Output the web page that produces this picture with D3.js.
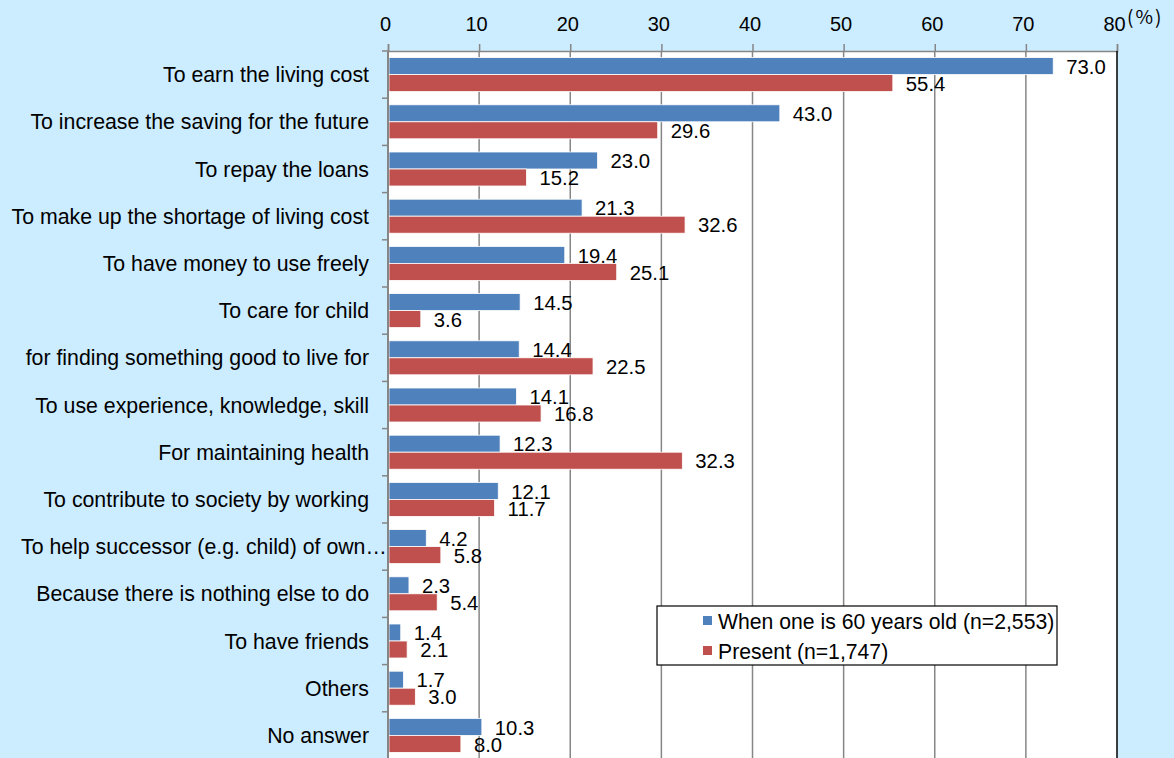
<!DOCTYPE html>
<html>
<head>
<meta charset="utf-8">
<script src="https://cdn.jsdelivr.net/npm/d3@7/dist/d3.min.js"></script>
<style>
  html, body { margin: 0; padding: 0; background: #CCECFF; }
  svg { display: block; }
  text { font-family: "Liberation Sans", Arial, sans-serif; fill: #000; }
</style>
</head>
<body>
<svg id="chart" width="1174" height="758"></svg>
<script>
// Reasons for working: at age 60 vs. present
const categories = [
  "To earn the living cost",
  "To increase the saving for the future",
  "To repay the loans",
  "To make up the shortage of living cost",
  "To have money to use freely",
  "To care for child",
  "for finding something good to live for",
  "To use experience, knowledge, skill",
  "For maintaining health",
  "To contribute to society by working",
  "To help successor (e.g. child) of own…",
  "Because there is nothing else to do",
  "To have friends",
  "Others",
  "No answer"
];
const at60 = [73.0, 43.0, 23.0, 21.3, 19.4, 14.5, 14.4, 14.1, 12.3, 12.1, 4.2, 2.3, 1.4, 1.7, 10.3];
const present = [55.4, 29.6, 15.2, 32.6, 25.1, 3.6, 22.5, 16.8, 32.3, 11.7, 5.8, 5.4, 2.1, 3.0, 8.0];
const seriesNames = ["When one is 60 years old (n=2,553)", "Present (n=1,747)"];
const tickValues = [0, 10, 20, 30, 40, 50, 60, 70, 80];
const unitLabel = "(%)";

const colors = ["#4F81BD", "#C0504D"];

const svg = d3.select("#chart");
const plot = { left: 388, right: 1117, top: 51, step: 47.2 };
const plotBottom = plot.top + plot.step * categories.length;

const x = d3.scaleLinear().domain([0, 80]).range([plot.left, plot.right]);
const y = d3.scaleBand().domain(categories).range([plot.top, plotBottom]).padding(0);
const sub = d3.scaleBand().domain([0, 1]).range([0, y.bandwidth()]).paddingInner(0).paddingOuter(0.388);

// plot area
svg.append("rect")
  .attr("x", plot.left).attr("y", plot.top)
  .attr("width", plot.right - plot.left).attr("height", plotBottom - plot.top)
  .attr("fill", "#fff");

// vertical gridlines
svg.append("g").selectAll("line")
  .data(tickValues.filter(d => d > 0 && d < 80))
  .join("line")
  .attr("x1", d => x(d)).attr("x2", d => x(d))
  .attr("y1", plot.top).attr("y2", plotBottom)
  .attr("stroke", "#868686").attr("stroke-width", 1.5);

// top axis
const xAxis = d3.axisTop(x).tickValues(tickValues).tickSize(7).tickPadding(13).tickFormat(d3.format("d"));
const gx = svg.append("g").attr("transform", `translate(0,${plot.top})`).call(xAxis);
gx.select(".domain").attr("stroke", "#868686").attr("stroke-width", 1.5);
gx.selectAll(".tick line").attr("stroke", "#868686").attr("stroke-width", 1.5);
gx.selectAll(".tick text").attr("font-size", 20).attr("dx", -3)
  .attr("font-family", "Liberation Sans, Arial, sans-serif").attr("fill", "#000");

// unit label
svg.append("text")
  .attr("x", x(80) + 10).attr("y", 24)
  .attr("font-size", 19)
  .attr("letter-spacing", 2)
  .style("font-family", "'Noto Sans CJK JP', sans-serif")
  .text(unitLabel);

// right border
svg.append("line")
  .attr("x1", plot.right).attr("x2", plot.right)
  .attr("y1", plot.top).attr("y2", plotBottom)
  .attr("stroke", "#000").attr("stroke-width", 1.5);

// bars
const rows = categories.map((c, i) => ({ c, v: [at60[i], present[i]] }));
const groups = svg.append("g").selectAll("g")
  .data(rows).join("g")
  .attr("transform", d => `translate(0,${y(d.c)})`);

groups.selectAll("rect")
  .data(d => d.v.map((v, k) => ({ v, k })))
  .join("rect")
  .attr("x", x(0) + 1)
  .attr("y", d => sub(d.k))
  .attr("width", d => x(d.v) - x(0) - 1)
  .attr("height", sub.bandwidth())
  .attr("fill", d => colors[d.k])
  .attr("stroke", "#fff").attr("stroke-width", 0.8);

// value labels
groups.selectAll("text")
  .data(d => d.v.map((v, k) => ({ v, k })))
  .join("text")
  .attr("x", d => x(d.v) + 13)
  .attr("y", d => sub(d.k) + sub.bandwidth() / 2)
  .attr("dy", "0.38em")
  .attr("font-size", 20.3)
  .text(d => d3.format(".1f")(d.v));

// left axis
const yAxis = d3.axisLeft(y).tickSize(0).tickPadding(19);
const gy = svg.append("g").attr("transform", `translate(${plot.left},0)`).call(yAxis);
gy.select(".domain").remove();
gy.selectAll(".tick text").attr("font-size", 21.3)
  .attr("font-family", "Liberation Sans, Arial, sans-serif").attr("fill", "#000").attr("dy", "0.36em");
// shortened labels (ending in an ellipsis) start at the left margin and run up to the axis
gy.selectAll(".tick text")
  .filter(d => d.endsWith("…"))
  .attr("text-anchor", "start")
  .attr("x", 21 - plot.left);

// category boundary ticks and axis line
svg.append("g").selectAll("line")
  .data(d3.range(categories.length + 1))
  .join("line")
  .attr("x1", plot.left - 6).attr("x2", plot.left)
  .attr("y1", i => plot.top + i * y.step()).attr("y2", i => plot.top + i * y.step())
  .attr("stroke", "#868686").attr("stroke-width", 1.5);
svg.append("line")
  .attr("x1", plot.left).attr("x2", plot.left)
  .attr("y1", plot.top).attr("y2", plotBottom)
  .attr("stroke", "#868686").attr("stroke-width", 2);

// legend
const legend = svg.append("g").attr("transform", "translate(657,606)");
legend.append("rect")
  .attr("width", 400).attr("height", 59)
  .attr("fill", "#fff").attr("stroke", "#000").attr("stroke-width", 1.2);
seriesNames.forEach((name, k) => {
  const cy = 15 + k * 30;
  legend.append("rect")
    .attr("x", 46).attr("y", cy - 5).attr("width", 9).attr("height", 9)
    .attr("fill", colors[k]);
  legend.append("text")
    .attr("x", 61).attr("y", cy).attr("dy", "0.36em")
    .attr("font-size", 21.2)
    .text(name);
});
</script>
</body>
</html>
